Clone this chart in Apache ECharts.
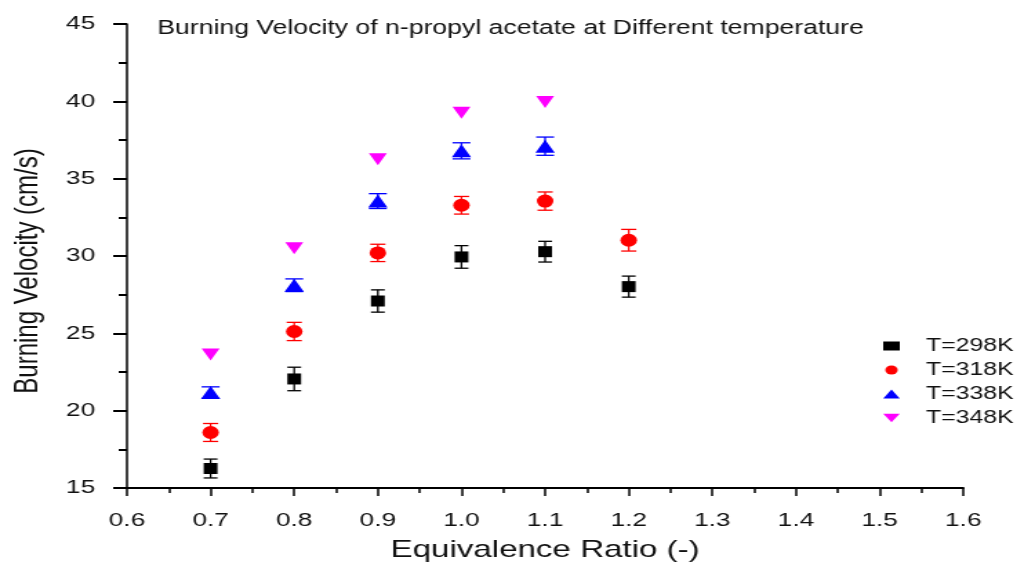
<!DOCTYPE html>
<html lang="en">
<head>
	<meta charset="utf-8">
	<title>Burning Velocity of n-propyl acetate</title>
	<script src="https://cdn.jsdelivr.net/npm/echarts@6/dist/echarts.min.js"></script>
	<style>
		html, body { margin: 0; padding: 0; background: #fff; overflow: hidden; }
		/* the source figure is stretched sideways, so the chart is drawn narrower and widened */
		#chart { width: 742px; height: 567px; transform: scaleX(1.38); transform-origin: 0 0; }
	</style>
</head>
<body>
<div id="chart"></div>
<script>
    var ratios = [0.7, 0.8, 0.9, 1.0, 1.1, 1.2];

    var v298 = [16.26, 22.05, 27.09, 29.94, 30.28, 28.02];
    var e298 = [0.61, 0.76, 0.72, 0.73, 0.67, 0.68];
    var v318 = [18.59, 25.12, 30.2, 33.28, 33.55, 31.02];
    var e318 = [0.58, 0.59, 0.56, 0.57, 0.59, 0.7];
    var v338 = [21.17, 28.11, 33.55, 36.8, 37.1];
    var e338 = [0.37, 0.41, 0.48, 0.52, 0.59];
    var v348 = [23.63, 30.5, 36.25, 39.26, 39.96];

    var names = ['T=298K', 'T=318K', 'T=338K', 'T=348K'];
    var font = 'Liberation Sans, Arial, sans-serif';

    function pts(vals) {
        return vals.map(function (v, i) { return [ratios[i], v]; });
    }
    function errPts(vals, errs) {
        return vals.map(function (v, i) { return [ratios[i], v, errs[i]]; });
    }
    function errSeries(vals, errs, color, cap) {
        return {
            type: 'custom',
            z: 1,
            silent: true,
            data: errPts(vals, errs),
            renderItem: function (params, api) {
                var x = api.value(0), y = api.value(1), e = api.value(2);
                var hi = api.coord([x, y + e]);
                var lo = api.coord([x, y - e]);
                var st = { stroke: color, lineWidth: 1.3 };
                return {
                    type: 'group',
                    children: [
                        { type: 'line', shape: { x1: hi[0], y1: hi[1], x2: lo[0], y2: lo[1] }, style: st },
                        { type: 'line', shape: { x1: hi[0] - cap / 2, y1: hi[1], x2: hi[0] + cap / 2, y2: hi[1] }, style: st },
                        { type: 'line', shape: { x1: lo[0] - cap / 2, y1: lo[1], x2: lo[0] + cap / 2, y2: lo[1] }, style: st }
                    ]
                };
            }
        };
    }

    var chart = echarts.init(document.getElementById('chart'));
    chart.setOption({
        animation: false,
        title: {
            text: 'Burning Velocity of n-propyl acetate at Different temperature',
            left: 109,
            top: 14,
            textStyle: { fontFamily: font, fontSize: 19.3, fontWeight: 'normal', color: '#111' }
        },
        legend: {
            data: [
                { name: names[0] },
                { name: names[1] },
                { name: names[2] },
                { name: names[3], icon: 'path://M0,0L14,0L7,10Z' }
            ],
            orient: 'vertical',
            left: 635,
            top: 332,
            itemWidth: 12,
            itemHeight: 9,
            itemGap: 6,
            textStyle: { fontFamily: font, fontSize: 18, color: '#111', padding: [0, 0, 0, 14] }
        },
        grid: { left: 88, right: 44, top: 24, bottom: 76 },
        xAxis: {
            type: 'value',
            min: 0.6,
            max: 1.6,
            interval: 0.1,
            name: 'Equivalence Ratio (-)',
            nameLocation: 'middle',
            nameGap: 50,
            nameTextStyle: { fontFamily: font, fontSize: 24, color: '#111' },
            axisLine: { onZero: false, lineStyle: { color: '#000', width: 2 } },
            axisTick: { length: 8, lineStyle: { color: '#000', width: 1.5 } },
            minorTick: { show: true, splitNumber: 2, length: 5, lineStyle: { color: '#000', width: 1.5 } },
            splitLine: { show: false },
            axisLabel: {
                margin: 23,
                fontFamily: font,
                fontSize: 19,
                color: '#111',
                formatter: function (v) { return v.toFixed(1); }
            }
        },
        yAxis: {
            type: 'value',
            min: 15,
            max: 45,
            interval: 5,
            name: 'Burning Velocity (cm/s)',
            nameLocation: 'middle',
            nameGap: 60,
            nameTextStyle: { fontFamily: font, fontSize: 24, color: '#111', padding: [0, 30, 0, 0] },
            axisLine: { onZero: false, lineStyle: { color: '#000', width: 1.5 } },
            axisTick: { length: 10, lineStyle: { color: '#000', width: 2 } },
            minorTick: { show: true, splitNumber: 2, length: 6, lineStyle: { color: '#000', width: 2 } },
            splitLine: { show: false },
            axisLabel: { margin: 23, fontFamily: font, fontSize: 19, color: '#111' }
        },
        series: [
            errSeries(v298, e298, '#000000', 10),
            errSeries(v318, e318, '#ff0000', 11),
            errSeries(v338, e338, '#0000ff', 13),
            { name: names[0], type: 'scatter', z: 2, symbol: 'rect', symbolSize: [10, 11],
              itemStyle: { color: '#000000', opacity: 1 }, data: pts(v298) },
            { name: names[1], type: 'scatter', z: 2, symbol: 'circle', symbolSize: [12, 13],
              itemStyle: { color: '#ff0000', opacity: 1 }, data: pts(v318) },
            { name: names[2], type: 'scatter', z: 2, symbol: 'triangle', symbolSize: [14, 13],
              itemStyle: { color: '#0000ff', opacity: 1 }, data: pts(v338) },
            { name: names[3], type: 'scatter', z: 2, symbol: 'triangle', symbolRotate: 180, symbolSize: [13, 12],
              itemStyle: { color: '#ff00ff', opacity: 1 }, data: pts(v348) }
        ]
    });
</script>
</body>
</html>
